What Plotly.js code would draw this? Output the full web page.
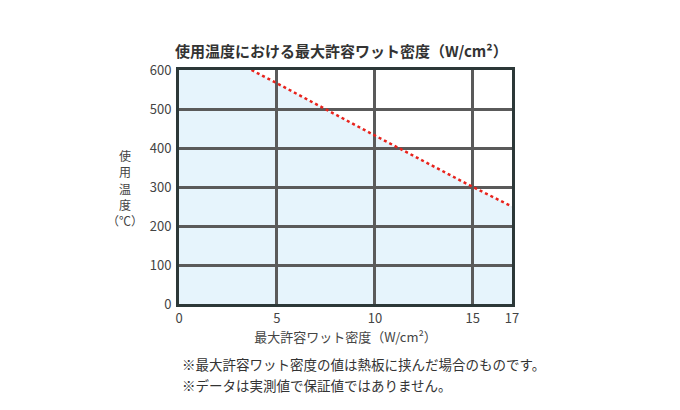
<!DOCTYPE html>
<html><head><meta charset="utf-8">
<script src="https://cdn.plot.ly/plotly-3.0.1.min.js"></script>
<style>body{margin:0;background:#fff}#c{width:680px;height:410px}</style>
</head><body><div id="c"></div>
<script>
const wattDensity = [0, 3.7, 5, 10, 15, 17];
const tempLimit = [600, 600, 566, 432, 300, 250];
const lineX = [3.7, 5, 10, 15, 17];
const lineY = [600, 566, 432, 300, 250];
const xTicks = [0, 5, 10, 15, 17];
const yTicks = [0, 100, 200, 300, 400, 500, 600];
const yTitleChars = ['使', '用', '温', '度', '（℃）'];
const font = '"Noto Sans CJK JP", "Noto Sans", sans-serif';

// fill area under the limit curve, built from the data arrays
let path = 'M ' + wattDensity[0] + ',0';
wattDensity.forEach((x, i) => { path += ' L ' + x + ',' + tempLimit[i]; });
path += ' L ' + wattDensity[wattDensity.length - 1] + ',0 Z';

const traces = [
  {x: lineX, y: lineY, type: 'scatter', mode: 'lines',
   line: {color: '#e8231c', width: 2.5, dash: 'dot'}}
];

const plotTop = 70, plotBottom = 304;
const yTitleAnn = yTitleChars.map((c, i) => ({
  text: c, xref: 'paper', yref: 'paper', x: -0.163,
  y: (plotBottom - (155 + i * 16.5)) / (plotBottom - plotTop),
  xanchor: 'center', yanchor: 'middle', showarrow: false,
  font: {family: font, size: 12, color: '#444'}
}));

const layout = {
  width: 680, height: 410,
  margin: {l: 179, r: 168, t: 70, b: 106},
  paper_bgcolor: '#ffffff', plot_bgcolor: '#ffffff',
  showlegend: false,
  font: {family: font, color: '#444', size: 13},
  title: {text: '<b>使用温度における最大許容ワット密度（W/cm²）</b>', x: 0.502, xanchor: 'center',
          y: 0.873, yanchor: 'middle', font: {family: font, size: 15, color: '#333'}},
  shapes: [{type: 'path', path: path, xref: 'x', yref: 'y', layer: 'below',
            fillcolor: '#e6f4fc', line: {width: 0}}],
  xaxis: {range: [0, 17], tickvals: xTicks, ticktext: xTicks.map(String), showgrid: true,
          gridcolor: '#5a5a5a', gridwidth: 2.5, zeroline: false,
          showline: true, linecolor: '#2c3838', linewidth: 3, mirror: true,
          ticks: '', tickfont: {family: font, size: 13, color: '#444'},
          title: {text: '最大許容ワット密度（W/cm²）', standoff: 8, font: {family: font, size: 13, color: '#444'}}},
  yaxis: {range: [0, 600], tickvals: yTicks, showgrid: true,
          gridcolor: '#5a5a5a', gridwidth: 2.5, zeroline: false,
          showline: true, linecolor: '#2c3838', linewidth: 3, mirror: true,
          ticks: '', ticklabelstandoff: 2, tickfont: {family: font, size: 13, color: '#444'}},
  annotations: yTitleAnn.concat([
    {text: '※最大許容ワット密度の値は熱板に挟んだ場合のものです。', xref: 'paper', yref: 'paper',
     x: 0.003, y: -0.255, xanchor: 'left', yanchor: 'middle', showarrow: false,
     font: {family: font, size: 13.5, color: '#333'}},
    {text: '※データは実測値で保証値ではありません。', xref: 'paper', yref: 'paper',
     x: 0.003, y: -0.345, xanchor: 'left', yanchor: 'middle', showarrow: false,
     font: {family: font, size: 13.5, color: '#333'}}
  ])
};
Plotly.newPlot('c', traces, layout, {displayModeBar: false});
</script></body></html>
